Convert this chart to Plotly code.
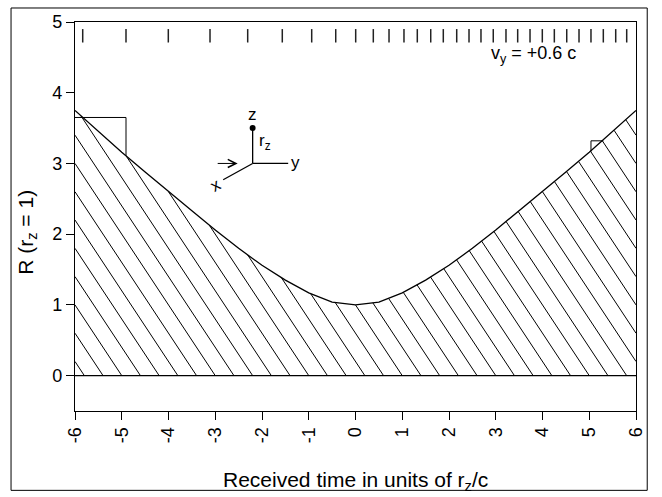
import numpy as np
import plotly.graph_objects as go

# ---- data ----
time_vals = [-6.0, -5.5, -5.0, -4.5, -4.0, -3.5, -3.0, -2.5, -2.0, -1.5, -1.0, -0.5,
             0.0, 0.5, 1.0, 1.5, 2.0, 2.5, 3.0, 3.5, 4.0, 4.5, 5.0, 5.5, 6.0]
R_vals = [3.75, 3.45, 3.16, 2.88, 2.60, 2.33, 2.06, 1.80, 1.56, 1.35, 1.17, 1.04,
          1.00, 1.04, 1.17, 1.35, 1.56, 1.80, 2.06, 2.33, 2.60, 2.88, 3.16, 3.45, 3.75]

tick_mark_times = [-5.835, -4.909, -4.004, -3.112, -2.306, -1.566, -0.937, -0.423, 0.004,
                   0.381, 0.717, 1.037, 1.322, 1.609, 1.878, 2.165, 2.428, 2.684, 2.947,
                   3.219, 3.469, 3.733, 3.996, 4.253, 4.518, 4.781, 5.037, 5.301, 5.566, 5.801]
tick_mark_R = [4.71, 4.90]

left_marker_t = [-6.0, -4.909, -4.909]
left_marker_R = [3.65, 3.65, 3.11]
right_marker_t = [5.037, 5.037, 5.301]
right_marker_R = [3.17, 3.32, 3.32]

x_tick_vals = [-6, -5, -4, -3, -2, -1, 0, 1, 2, 3, 4, 5, 6]
y_tick_vals = [0, 1, 2, 3, 4, 5]

hatch_first = -5.8    # x + R = const lines
hatch_step = 0.4

FONT = "Liberation Sans, Arial, Helvetica, sans-serif"

fig = go.Figure()

# ---- hatching (lines x + R = c clipped to area under curve) ----
xs = np.linspace(-6, 6, 4801)
Rs = np.interp(xs, time_vals, R_vals)
hx, hy = [], []
c = hatch_first
while c < 6 + max(R_vals):
    x_hi = min(c, 6.0)
    g = c - xs - Rs  # decreasing in x
    if g[0] <= 0:
        x_lo = -6.0
    else:
        x_lo = float(np.interp(0.0, -g, xs))
    if x_lo < x_hi:
        hx += [x_lo, x_hi, None]
        hy += [c - x_lo, c - x_hi, None]
    c += hatch_step
fig.add_trace(go.Scatter(x=hx, y=hy, mode="lines", line=dict(color="black", width=1),
                         hoverinfo="skip", showlegend=False))

# zero line
fig.add_trace(go.Scatter(x=[x_tick_vals[0], x_tick_vals[-1]], y=[0, 0], mode="lines",
                         line=dict(color="black", width=1.3), showlegend=False))

# curve
fig.add_trace(go.Scatter(x=time_vals, y=R_vals, mode="lines",
                         line=dict(color="black", width=1.3), showlegend=False))

# markers (small step boxes)
fig.add_trace(go.Scatter(x=left_marker_t, y=left_marker_R, mode="lines",
                         line=dict(color="black", width=1), showlegend=False))
fig.add_trace(go.Scatter(x=right_marker_t, y=right_marker_R, mode="lines",
                         line=dict(color="black", width=1), showlegend=False))

# top tick marks
tx, ty = [], []
for tm in tick_mark_times:
    tx += [tm, tm, None]
    ty += [tick_mark_R[0], tick_mark_R[1], None]
fig.add_trace(go.Scatter(x=tx, y=ty, mode="lines", line=dict(color="#222", width=1.5),
                         showlegend=False))

# coordinate icon
ox, oy = -2.2, 3.0
fig.add_trace(go.Scatter(x=[ox, ox, None, ox, -1.44, None, ox, -2.83],
                         y=[oy, 3.5, None, oy, oy, None, oy, 2.77],
                         mode="lines", line=dict(color="black", width=1.3), showlegend=False))
fig.add_trace(go.Scatter(x=[ox], y=[3.5], mode="markers",
                         marker=dict(color="black", size=6), showlegend=False))

annotations = [
    dict(x=ox, y=3.69, text="z", showarrow=False, font=dict(size=17, family=FONT, color="black")),
    dict(x=-1.93, y=3.31, text="r<sub>z</sub>", showarrow=False,
         font=dict(size=17, family=FONT, color="black")),
    dict(x=-1.28, y=3.02, text="y", showarrow=False, font=dict(size=17, family=FONT, color="black")),
    dict(x=-3.0, y=2.69, text="x", showarrow=False, textangle=-30,
         font=dict(size=17, family=FONT, color="black")),
    dict(x=-2.52, y=3.0, ax=-2.98, ay=3.0, axref="x", ayref="y", xref="x", yref="y",
         text="", showarrow=True, arrowhead=5, arrowsize=1.6, arrowwidth=1, arrowcolor="black"),
    dict(x=3.8, y=4.54, text="v<sub>y</sub> = +0.6 c", showarrow=False,
         xanchor="center", yanchor="middle",
         font=dict(size=18, family=FONT, color="black")),
    dict(x=0.5, y=-0.18, xref="paper", yref="paper", text="Received time in units of r<sub>z</sub>/c",
         xanchor="center", yanchor="middle",
         showarrow=False, font=dict(size=21, family=FONT, color="black")),
    dict(x=-0.086, y=0.46, xref="paper", yref="paper", text="R (r<sub>z</sub> = 1)", textangle=-90,
         xanchor="center", yanchor="middle",
         showarrow=False, font=dict(size=21, family=FONT, color="black")),
]

fig.update_layout(
    width=662, height=497,
    margin=dict(l=75, r=26, t=19, b=86),
    paper_bgcolor="white", plot_bgcolor="white",
    showlegend=False,
    annotations=annotations,
    shapes=[dict(type="rect", xref="paper", yref="paper", x0=-0.114, x1=1.020, y0=-0.204, y1=1.036,
                 line=dict(color="black", width=1))],
    xaxis=dict(range=[-6, 6], tickvals=x_tick_vals, ticktext=[str(v) for v in x_tick_vals],
               ticks="outside", ticklen=8, tickwidth=1, tickcolor="black", tickangle=-90,
               showline=True, mirror=True, linecolor="black", linewidth=1.3,
               showgrid=False, zeroline=False,
               tickfont=dict(size=18, family=FONT, color="black")),
    yaxis=dict(range=[-0.5, 5], tickvals=y_tick_vals, ticks="outside", ticklen=8, tickwidth=1,
               tickcolor="black", showline=True, mirror=True, linecolor="black", linewidth=1.3,
               showgrid=False, zeroline=False,
               tickfont=dict(size=18, family=FONT, color="black")),
)

fig.write_html("out.html")
